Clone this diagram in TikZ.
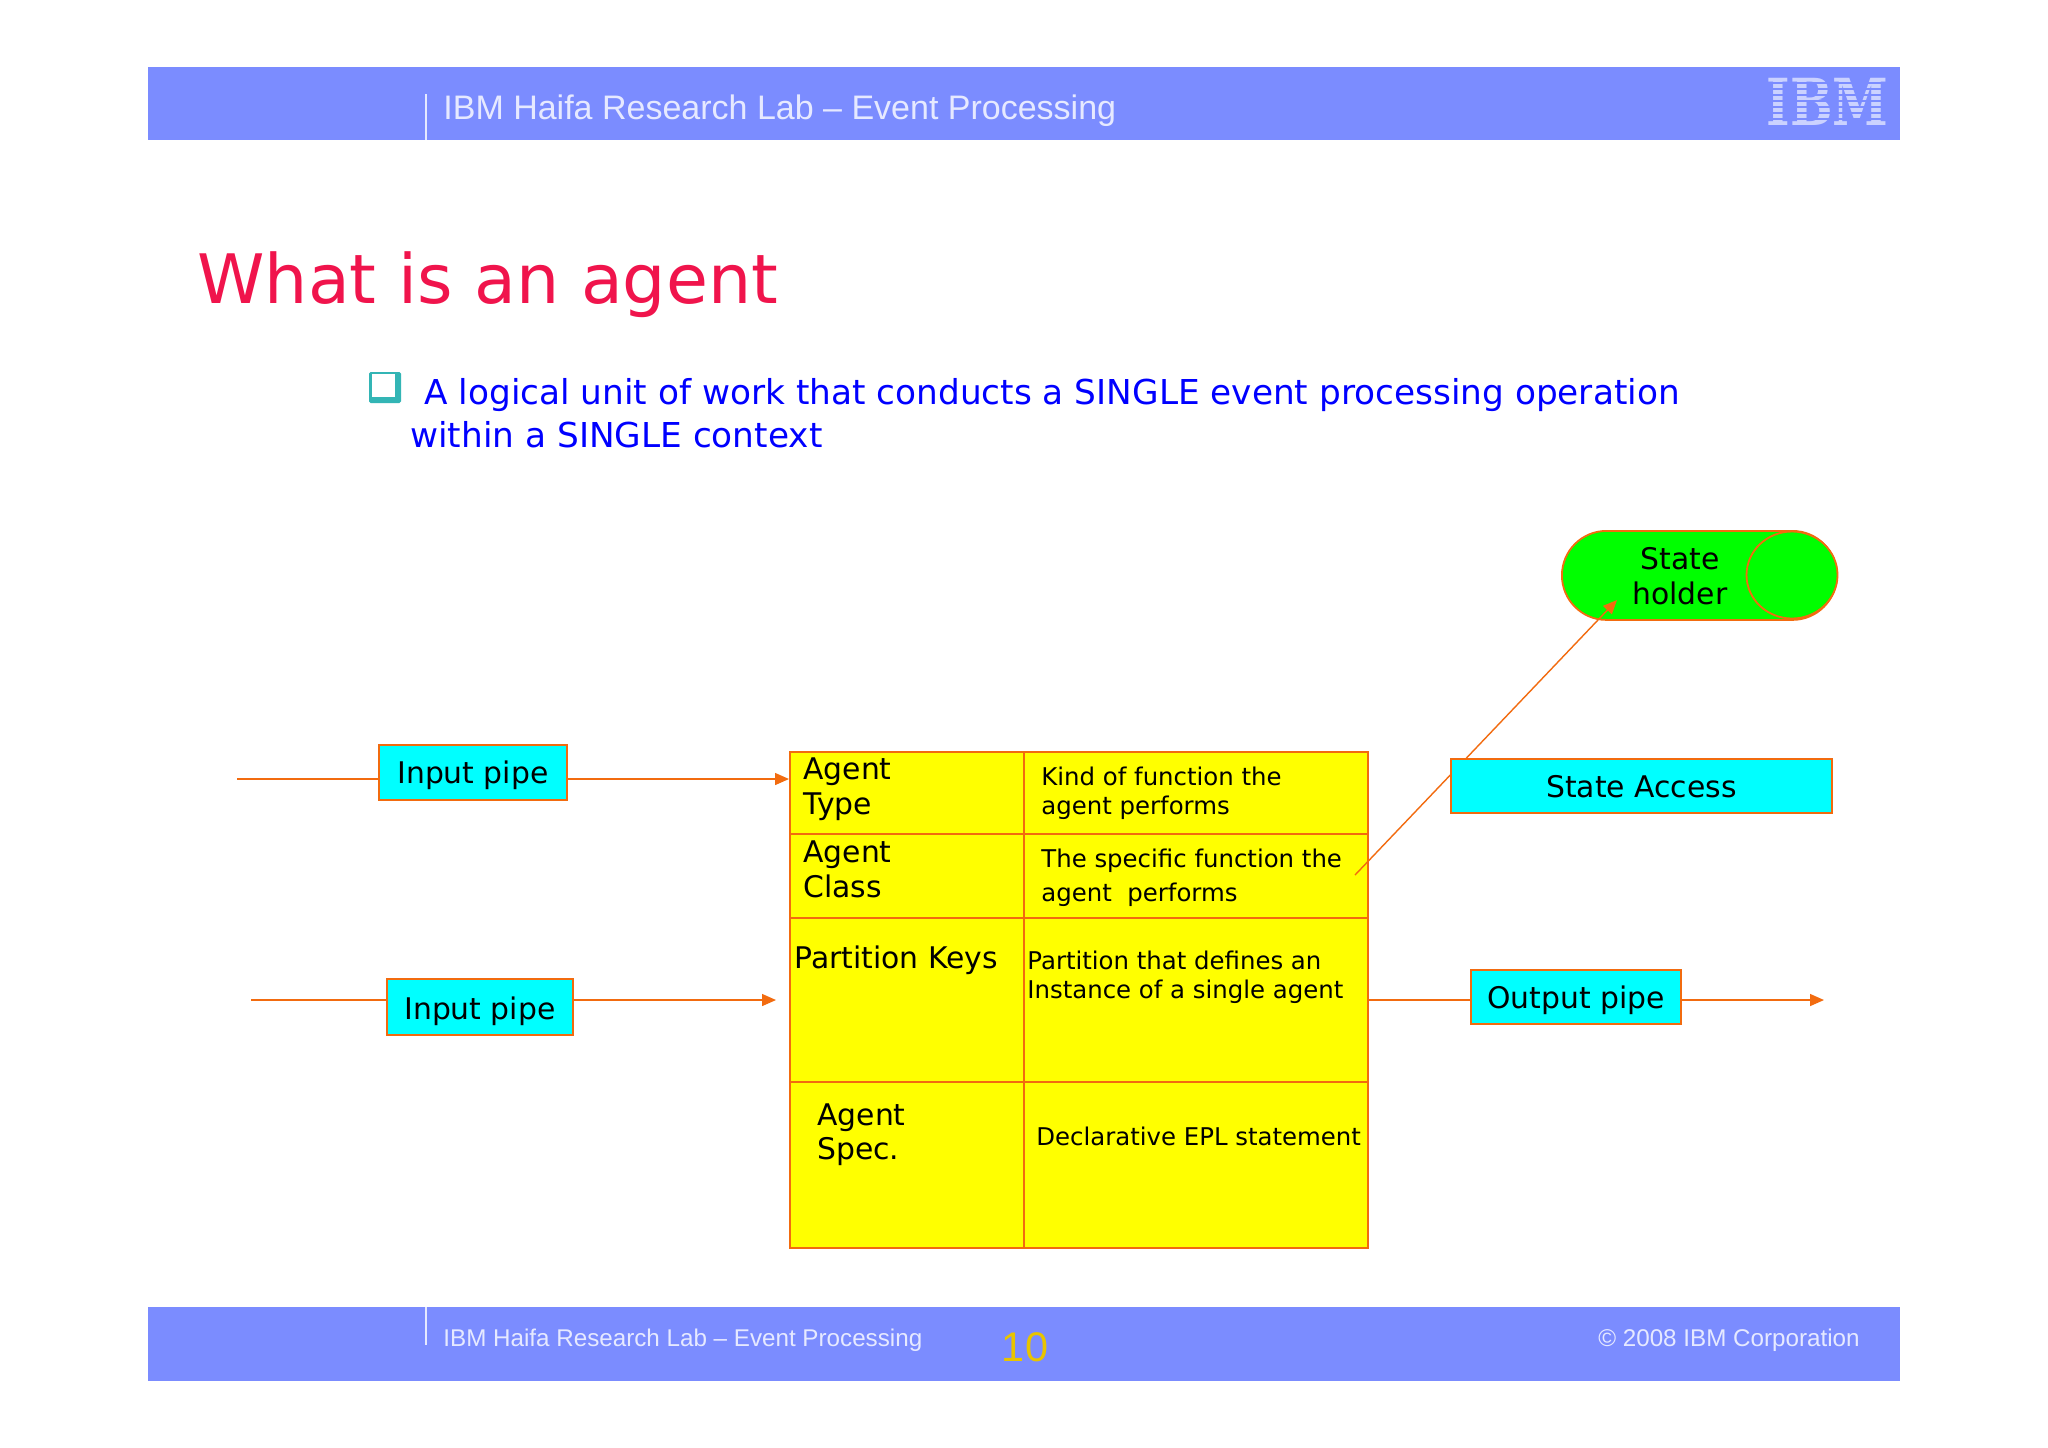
\documentclass[tikz,border=0pt]{standalone}
\usepackage{fontspec}
\setmainfont{DejaVu Sans}
\newfontfamily\barfont{Liberation Sans}
\newfontfamily\logofont{DejaVu Serif}
\usepackage{xcolor}
\usetikzlibrary{arrows.meta, positioning, shapes.geometric, calc}
\definecolor{barblue}{HTML}{7B8CFF}
\definecolor{lineorange}{HTML}{F26B0F}
\definecolor{titlered}{HTML}{F0144C}
\definecolor{bullteal}{HTML}{33B5B5}
\definecolor{barwhite}{HTML}{E6E9FF}
\definecolor{logowhite}{HTML}{CBD2FF}
\definecolor{numgold}{HTML}{E8C400}
\definecolor{cellyellow}{HTML}{FFFF00}
\definecolor{pipecyan}{HTML}{00FFFF}
\definecolor{holdergreen}{HTML}{00FF00}
\newcommand{\fsz}[2]{\fontsize{#1}{#2}\selectfont}

\begin{document}
\begin{tikzpicture}[
  x=0.5pt, y=-0.5pt,
  bar/.style={fill=barblue, draw=none, minimum width=876pt, minimum height=#1, anchor=north west, inner sep=0pt},
  bartext/.style={text=barwhite, anchor=west, inner sep=0pt, font=\barfont\fsz{#1}{#1}},
  cell/.style={draw=lineorange, fill=cellyellow, line width=0.9pt, anchor=north west, inner sep=0pt, minimum width=#1},
  headtext/.style={anchor=north west, inner sep=0pt, align=left, font=\fsz{14.9}{17.6}},
  desctext/.style={anchor=north west, inner sep=0pt, align=left, font=\fsz{12.2}{#1}},
  pipe/.style={draw=lineorange, fill=pipecyan, line width=0.9pt, inner sep=0pt, font=\fsz{14.9}{17}, anchor=north west, text height=#1, text depth=0pt},
  wire/.style={draw=lineorange, line width=0.7pt},
  wirearrow/.style={wire, -{Triangle[length=7pt, width=6pt]}},
]
  \useasboundingbox (0,0) rectangle (2048,1447);
  \fill[white] (0,0) rectangle (2048,1447);

  % header and footer bars
  \node[bar=36.5pt] (header) at (148,67) {};
  \node[bar=37pt] (footer) at (148,1307) {};
  \draw[barwhite, line width=0.6pt] (426,94) -- (426,140);
  \draw[barwhite, line width=0.6pt] (426,1307) -- (426,1345);
  \node[bartext=17] (headtitle) at (443,111) {IBM Haifa Research Lab – Event Processing};
  \node[bartext=12.1] (foottitle) at (443,1340) {IBM Haifa Research Lab – Event Processing};
  \node[anchor=center, inner sep=0pt, text=numgold, font=\barfont\fsz{20.7}{20.7}] (pagenum) at (1025,1347) {10};
  \node[bartext=12.1, anchor=east] (copyright) at (1860,1340) {© 2008 IBM Corporation};

  % logo
  \node[inner sep=0pt, text=logowhite, font=\logofont\bfseries\fsz{30}{30}, xscale=0.84, yscale=1.08] (logo) at (1827.5,102) {IBM};
  \foreach \y in {82,88,...,120} {
    \fill[barblue] (1760,\y) rectangle (1895,\y+2.4);
  }

  % title and bullet
  \node[anchor=west, inner sep=0pt, text=titlered, font=\fsz{34.1}{34.1}] (title) at (197,285) {What is an agent};
  \fill[bullteal, rounded corners=0.8pt] (369,372) rectangle (401,403);
  \fill[white] (372,374) rectangle (395,397);
  \node[anchor=north west, inner sep=0pt, align=left, text=blue, font=\fsz{17.15}{21.5}] (bullet) at (410,378)
    {\hspace{7pt}A logical unit of work that conducts a SINGLE event processing operation\\within a SINGLE context};

  % agent table
  \node[cell=117pt, minimum height=41pt] (typehead) at (789,751) {};
  \node[cell=172pt, minimum height=41pt] (typedesc) at (1023,751) {};
  \node[cell=117pt, minimum height=42pt] (classhead) at (789,833) {};
  \node[cell=172pt, minimum height=42pt] (classdesc) at (1023,833) {};
  \node[cell=117pt, minimum height=82pt] (keyshead) at (789,917) {};
  \node[cell=172pt, minimum height=82pt] (keysdesc) at (1023,917) {};
  \node[cell=117pt, minimum height=83pt] (spechead) at (789,1081) {};
  \node[cell=172pt, minimum height=83pt] (specdesc) at (1023,1081) {};

  \node[headtext] at (803,757) {Agent\\Type};
  \node[headtext] at (803,840) {Agent\\Class};
  \node[headtext] at (794,945) {Partition Keys};
  \node[headtext, font=\fsz{14.9}{17.2}] at (817,1103) {Agent\\Spec.};
  \node[desctext=14.5] at (1041,767) {Kind of function the\\agent performs};
  \node[desctext=17] at (1041,849) {The specific function the\\agent\ \ performs};
  \node[desctext=14.5] at (1027,951) {Partition that defines an\\Instance of a single agent};
  \node[desctext=15] at (1036,1127) {Declarative EPL statement};

  % state holder
  \node[draw=lineorange, fill=holdergreen, line width=0.9pt, rounded corners=22.25pt, minimum width=137.5pt, minimum height=44.5pt, inner sep=0pt, anchor=north west] (holder) at (1561,530) {};
  \node[draw=lineorange, fill=holdergreen, line width=0.9pt, ellipse, minimum width=45.5pt, minimum height=43.5pt, inner sep=0pt] (holdercap) at (1792,575) {};
  \node[inner sep=0pt, align=center, font=\fsz{14.9}{17.6}] (holdertext) at (1680,576) {State\\holder};

  \coordinate (accessfrom) at (1355,875);
  \coordinate (accessto) at (1617,600);
  \draw[wirearrow] (accessfrom) -- (accessto);

  % pipes
  \node[pipe=10.8pt, minimum width=94pt, minimum height=27.5pt] (inputa) at (378,744) {Input pipe};
  \node[pipe=12.6pt, minimum width=93pt, minimum height=28pt] (inputb) at (386,978) {Input pipe};
  \node[pipe=11.5pt, minimum width=105pt, minimum height=27pt] (output) at (1470,969) {Output pipe};
  \node[pipe=11.6pt, minimum width=190.5pt, minimum height=27pt] (access) at (1450,758) {State Access};

  \coordinate (inafrom) at (237,779);
  \coordinate (inbfrom) at (251,1000);
  \coordinate (inbto) at (776,1000);
  \coordinate (outto) at (1824,1000);
  \draw[wire] (inafrom) -- (inafrom -| inputa.west);
  \draw[wirearrow] (inafrom -| inputa.east) -- (inafrom -| typehead.west);
  \draw[wire] (inbfrom) -- (inbfrom -| inputb.west);
  \draw[wirearrow] (inbfrom -| inputb.east) -- (inbto);
  \draw[wire] (inbfrom -| keysdesc.east) -- (inbfrom -| output.west);
  \draw[wirearrow] (inbfrom -| output.east) -- (outto);
\end{tikzpicture}
\end{document}
